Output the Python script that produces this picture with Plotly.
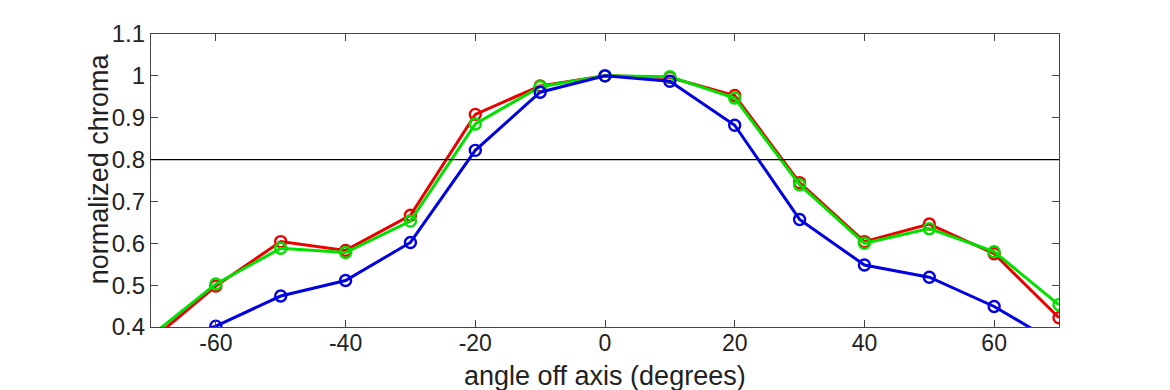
import plotly.graph_objects as go

angles = [-70, -60, -50, -40, -30, -20, -10, 0, 10, 20, 30, 40, 50, 60, 70]
red = [0.368, 0.498, 0.604, 0.583, 0.667, 0.908, 0.976, 1.0, 0.996, 0.953, 0.745, 0.604, 0.646, 0.575, 0.422]
green = [0.379, 0.503, 0.588, 0.578, 0.653, 0.885, 0.974, 1.0, 0.998, 0.947, 0.740, 0.600, 0.635, 0.580, 0.453]
blue = [0.35, 0.402, 0.474, 0.511, 0.602, 0.822, 0.961, 1.0, 0.987, 0.882, 0.657, 0.548, 0.519, 0.449, 0.358]
x_ticks = [-60, -40, -20, 0, 20, 40, 60]
x_tick_labels = ["-60", "-40", "-20", "0", "20", "40", "60"]
y_ticks = [0.4, 0.5, 0.6, 0.7, 0.8, 0.9, 1.0, 1.1]
y_tick_labels = ["0.4", "0.5", "0.6", "0.7", "0.8", "0.9", "1", "1.1"]
threshold = 0.8

series = [("red", red, "rgb(235,0,0)"), ("green", green, "rgb(0,225,0)"), ("blue", blue, "rgb(0,0,225)")]

fig = go.Figure()
for name, vals, col in series:
    fig.add_trace(go.Scatter(
        x=angles, y=vals, mode="lines+markers", name=name,
        line=dict(color=col, width=3),
        marker=dict(symbol="circle-open", size=11, color=col, line=dict(width=2.4, color=col)),
        showlegend=False,
    ))

fig.add_hline(y=threshold, line=dict(color="black", width=1.3))

font = "Liberation Sans, Arial, sans-serif"
fig.update_layout(
    width=1170, height=390,
    margin=dict(l=143, r=119, t=21, b=71),
    paper_bgcolor="white", plot_bgcolor="white",
    font=dict(family=font, size=24, color="#222"),
)
fig.update_xaxes(
    range=[-70, 70], tickvals=x_ticks, ticktext=x_tick_labels, ticks="inside", ticklen=7, tickcolor="#444",
    showline=True, linecolor="#444", linewidth=1.3, mirror="ticks", showgrid=False, zeroline=False,
    tickfont=dict(size=23), ticklabelstandoff=-5,
)
fig.update_yaxes(
    range=[0.4, 1.1], tickvals=y_ticks, ticktext=y_tick_labels, ticks="inside", ticklen=7, tickcolor="#444",
    showline=True, linecolor="#444", linewidth=1.3, mirror="ticks", showgrid=False, zeroline=False,
    tickfont=dict(size=24),
)
fig.add_annotation(text="angle off axis (degrees)", xref="paper", yref="paper", x=0.5, y=0,
                   xanchor="center", yanchor="middle", yshift=-49, showarrow=False,
                   font=dict(size=27, family=font, color="#222"))
fig.add_annotation(text="normalized chroma", xref="paper", yref="paper", x=0, y=0.5386,
                   xanchor="center", yanchor="middle", xshift=-52, textangle=-90, showarrow=False,
                   font=dict(size=27, family=font, color="#222"))

fig.write_html("out.html")
